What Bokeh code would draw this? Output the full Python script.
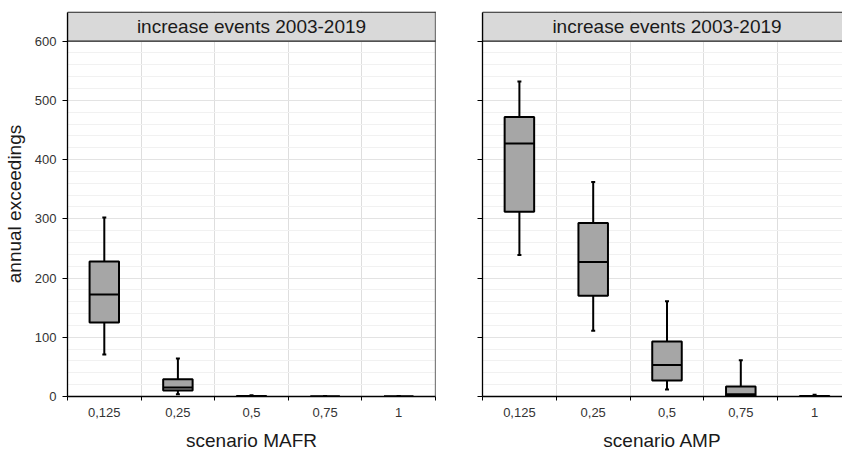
from bokeh.plotting import figure
from bokeh.layouts import row
from bokeh.models import Range1d, FixedTicker, Span, ColumnDataSource
from bokeh.core.properties import value
from bokeh.embed import file_html
from bokeh.resources import INLINE

# ---------------- data ----------------
categories = ["0,125", "0,25", "0,5", "0,75", "1"]
strip_title = "increase events 2003-2019"
y_label = "annual exceedings"
x_label_left = "scenario MAFR"
x_label_right = "scenario AMP"

mafr_min = [71, 4, 0, 0, 0]
mafr_q1 = [125, 10, 0, 0, 0]
mafr_med = [172, 15, 1, 0, 0]
mafr_q3 = [228, 29, 1, 0, 0]
mafr_max = [302, 64, 2, 1, 1]

amp_min = [239, 111, 12, 0, 0]
amp_q1 = [312, 170, 27, 1, 0]
amp_med = [427, 227, 53, 4, 0.5]
amp_q3 = [472, 293, 93, 17, 1]
amp_max = [532, 362, 161, 61, 3]

y_major = [0, 100, 200, 300, 400, 500, 600]
y_minor = [v for v in range(20, 600, 20) if v % 100 != 0]

FONT = "Liberation Sans"
Y_TOP = 650.0
STRIP_BOTTOM = 600.0
STRIP_TOP = 648.9


def make_panel(mins, q1, med, q3, maxs, xlabel, show_ylabels, width,
               border_left, border_right, x_end):
    n = len(categories)
    centers = [i + 0.5 for i in range(n)]
    p = figure(width=width, height=453, output_backend="svg",
               toolbar_location=None, x_range=Range1d(0, x_end),
               y_range=Range1d(0, Y_TOP), min_border_left=border_left,
               min_border_right=border_right, min_border_top=11,
               min_border_bottom=56)
    p.outline_line_color = None
    p.background_fill_color = "white"
    p.border_fill_color = "white"

    # grids
    p.xgrid.ticker = FixedTicker(ticks=[1, 2, 3, 4])
    p.xgrid.grid_line_color = "#dedede"
    p.xgrid.grid_line_width = 1
    p.ygrid.ticker = FixedTicker(ticks=y_major, minor_ticks=y_minor)
    p.ygrid.grid_line_color = "#e3e3e3"
    p.ygrid.minor_grid_line_color = "#f1f1f1"

    # x axis
    xa = p.xaxis[0]
    xa.ticker = FixedTicker(ticks=centers, minor_ticks=list(range(n + 1)))
    xa.major_label_overrides = {c: lab for c, lab in zip(centers, categories)}
    xa.major_tick_out = 0
    xa.major_tick_in = 0
    xa.minor_tick_out = 4
    xa.minor_tick_in = 0
    xa.minor_tick_line_color = "black"
    xa.axis_line_color = "black"
    xa.axis_line_width = 1.3
    xa.major_label_text_font = FONT
    xa.major_label_text_font_size = "13px"
    xa.major_label_text_color = "#333333"
    xa.major_label_standoff = 7
    xa.axis_label = xlabel
    xa.axis_label_text_font = FONT
    xa.axis_label_text_font_size = "19px"
    xa.axis_label_text_font_style = "normal"
    xa.axis_label_text_color = "#1a1a1a"
    xa.axis_label_standoff = 10

    # y axis
    ya = p.yaxis[0]
    ya.ticker = FixedTicker(ticks=y_major)
    ya.bounds = (0, STRIP_TOP)
    ya.major_tick_out = 5
    ya.major_tick_in = 0
    ya.minor_tick_out = 0
    ya.minor_tick_line_color = None
    ya.axis_line_color = "black"
    ya.axis_line_width = 1.3
    ya.major_tick_line_color = "black"
    ya.major_label_text_font = FONT
    ya.major_label_text_font_size = "13px"
    ya.major_label_text_color = "#333333"
    ya.major_label_standoff = 6
    if show_ylabels:
        ya.axis_label = y_label
        ya.axis_label_text_font = FONT
        ya.axis_label_text_font_size = "19px"
        ya.axis_label_text_font_style = "normal"
        ya.axis_label_text_color = "#1a1a1a"
        ya.axis_label_standoff = 7
    else:
        ya.major_label_overrides = {v: "" for v in y_major}

    # strip
    p.quad(left=[0], right=[5.5], bottom=[STRIP_BOTTOM], top=[STRIP_TOP],
           fill_color="#d9d9d9", line_color="#222222", line_width=1.2)
    p.text(x=[2.5], y=[(STRIP_BOTTOM + STRIP_TOP) / 2], text=[strip_title],
           text_font=value(FONT), text_font_size="19px",
           text_align="center", text_baseline="middle", text_color="#1a1a1a")

    src = ColumnDataSource(dict(x=centers, lo=mins, q1=q1, med=med, q3=q3, hi=maxs,
                                xl=[c - 0.2 for c in centers], xr=[c + 0.2 for c in centers],
                                cl=[c - 0.027 for c in centers], cr=[c + 0.027 for c in centers]))
    # whiskers
    p.segment(x0="x", y0="q3", x1="x", y1="hi", source=src, line_color="black", line_width=2)
    p.segment(x0="x", y0="lo", x1="x", y1="q1", source=src, line_color="black", line_width=2)
    p.segment(x0="cl", y0="hi", x1="cr", y1="hi", source=src, line_color="black", line_width=2)
    p.segment(x0="cl", y0="lo", x1="cr", y1="lo", source=src, line_color="black", line_width=2)
    # boxes
    p.quad(left="xl", right="xr", bottom="q1", top="q3", source=src,
           fill_color="#a6a6a6", line_color="black", line_width=2)
    # medians
    p.segment(x0="xl", y0="med", x1="xr", y1="med", source=src, line_color="black", line_width=2)
    return p


p1 = make_panel(mafr_min, mafr_q1, mafr_med, mafr_q3, mafr_max, x_label_left,
                True, 436, 66, 1, 5.0)
p1.add_layout(Span(location=5.0, dimension="height", line_color="black", line_width=1.2))

p2 = make_panel(amp_min, amp_q1, amp_med, amp_q3, amp_max, x_label_right,
                False, 406, 46, 0, 360 / 73.8)

layout = row(p1, p2)
open("out.html", "w").write(file_html(layout, INLINE))
